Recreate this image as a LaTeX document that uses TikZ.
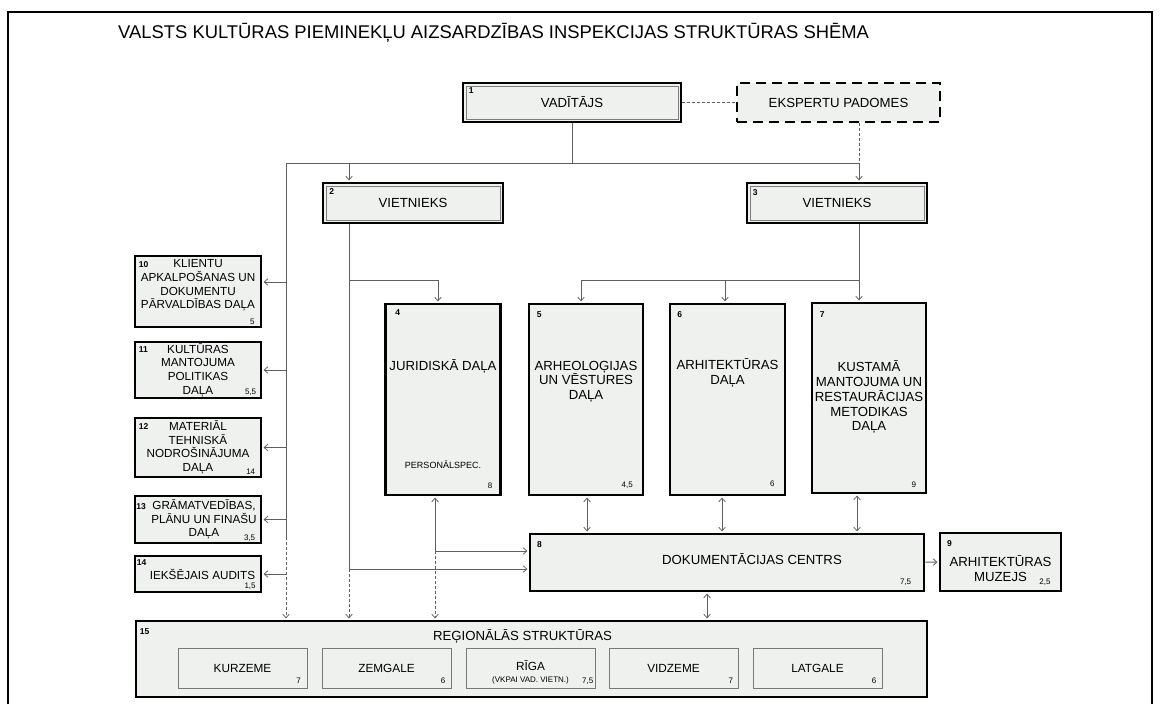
\documentclass[tikz,border=0pt]{standalone}
\usepackage{fontspec}
\setmainfont{Liberation Sans}
\usetikzlibrary{arrows.meta, calc}
\definecolor{boxFill}{RGB}{239,241,239}
\definecolor{lineGray}{RGB}{95,95,95}
\definecolor{innerGray}{RGB}{125,125,125}
\definecolor{subGray}{RGB}{120,120,120}

\begin{document}
\begin{tikzpicture}[x=1pt, y=-1pt,
    unit/.style={rectangle, draw=black, line width=2.7pt, fill=boxFill, inner sep=0pt, align=center, font=\fontsize{13.2}{14.5}\selectfont},
    chief/.style={unit, path picture={\draw[innerGray, line width=0.9pt] ([shift={(3pt,-3pt)}]path picture bounding box.north west) rectangle ([shift={(-3pt,3pt)}]path picture bounding box.south east);}},
    council/.style={unit, dash pattern=on 10pt off 6pt},
    side/.style={unit, minimum width=126pt, font={\fontsize{11.7}{13.7}\selectfont\lineskiplimit=-20pt}},
    dept/.style={unit, minimum width=115pt, minimum height=191pt},
    region/.style={rectangle, draw=subGray, line width=0.9pt, fill=boxFill, inner sep=0pt, minimum width=129pt, minimum height=40pt, align=center, font=\fontsize{11.8}{13}\selectfont},
    txt/.style={inner sep=0pt, align=center, font={\fontsize{13.2}{14.8}\selectfont\lineskiplimit=-20pt}},
    stxt/.style={txt, font={\fontsize{11.7}{13.7}\selectfont\lineskiplimit=-20pt}},
    idx/.style={anchor=north west, inner sep=0pt, font=\bfseries\fontsize{8.5}{8.5}\selectfont},
    val/.style={anchor=base east, inner sep=0pt, font=\fontsize{8}{8}\selectfont},
    conn/.style={draw=lineGray, line width=0.8pt},
    dotconn/.style={conn, dash pattern=on 3pt off 2pt},
    arr/.style={conn, -{Straight Barb[length=3.5pt, width=6.5pt]}, shorten >=1.3pt},
    darr/.style={conn, {Straight Barb[length=3.5pt, width=6.5pt]}-{Straight Barb[length=3.5pt, width=6.5pt]}, shorten >=1.3pt, shorten <=1.3pt}
  ]
  \useasboundingbox (0,0) rectangle (1161,704);

  % frame and title
  \draw[line width=1.8pt] (8,704) -- (8,12) -- (1152,12) -- (1152,704);
  \node[anchor=base west, inner sep=0pt, font=\fontsize{18.4}{20}\selectfont] (title) at (118,38.3) {VALSTS KULTŪRAS PIEMINEKĻU AIZSARDZĪBAS INSPEKCIJAS STRUKTŪRAS SHĒMA};

  % head and deputies
  \node[chief, minimum width=218pt, minimum height=39pt, label={[idx, xshift=7pt, yshift=-6pt]north west:1}] (b1) at (572,102.5) {VADĪTĀJS};
  \node[council, minimum width=203pt, minimum height=39pt] (ek) at (838.5,102.5) {EKSPERTU PADOMES};
  \node[chief, minimum width=180pt, minimum height=40pt, label={[idx, xshift=7.5pt, yshift=-7pt]north west:2}] (b2) at (413,203) {VIETNIEKS};
  \node[chief, minimum width=180pt, minimum height=40pt, label={[idx, xshift=7pt, yshift=-7.5pt]north west:3}] (b3) at (837,203) {VIETNIEKS};

  % side units
  \node[side, minimum height=71pt, label={[idx, xshift=5pt, yshift=-6.5pt]north west:10}, label={[val, xshift=-7.7pt, yshift=4.3pt]south east:5}] (b10) at (198,291.5) {};
  \node[side, minimum height=56pt, label={[idx, xshift=5pt, yshift=-6pt]north west:11}, label={[val, xshift=-6pt, yshift=4.7pt]south east:5,5}] (b11) at (198,370) {KULTŪRAS\\MANTOJUMA\\POLITIKAS\\DAĻA};
  \node[side, minimum height=59pt, label={[idx, xshift=5pt, yshift=-7pt]north west:12}, label={[val, xshift=-7pt, yshift=3.7pt]south east:14}] (b12) at (198,447.5) {MATERIĀL\\TEHNISKĀ\\NODROŠINĀJUMA\\DAĻA};
  \node[side, minimum height=47pt, label={[idx, xshift=2.5pt, yshift=-8.5pt]north west:13}, label={[val, xshift=-7pt, yshift=3.7pt]south east:3,5}] (b13) at (198,519.5) {};
  \node[side, minimum height=36pt, label={[idx, xshift=3pt, yshift=-5pt]north west:14}, label={[val, xshift=-6.5pt, yshift=5.3pt]south east:1,5}] (b14) at (198,574) {};

  % departments
  \node[dept, label={[idx, xshift=11pt, yshift=-7pt]north west:4}, label={[val, xshift=-9.3pt, yshift=7.8pt]south east:8}] (b4) at (443,399.5) {};
  \node[dept, minimum width=114pt, label={[idx, xshift=9pt, yshift=-8.5pt]north west:5}, label={[val, xshift=-11.3pt, yshift=8.8pt]south east:4,5}] (b5) at (586,399.5) {};
  \node[dept, label={[idx, xshift=8.5pt, yshift=-8.5pt]north west:6}, label={[val, xshift=-11.7pt, yshift=9.5pt]south east:6}] (b6) at (727.5,399.5) {};
  \node[dept, minimum width=114pt, minimum height=190pt, label={[idx, xshift=9pt, yshift=-10pt]north west:7}, label={[val, xshift=-11pt, yshift=7pt]south east:9}] (b7) at (869,398) {};

  % documentation centre, museum, regions
  \node[unit, minimum width=394pt, minimum height=57pt, label={[idx, xshift=8.3pt, yshift=-8.3pt]north west:8}, label={[val, xshift=-14pt, yshift=8pt]south east:7,5}] (b8) at (727,562.5) {};
  \node[unit, minimum width=121pt, minimum height=58pt, label={[idx, xshift=8.3pt, yshift=-8.7pt]north west:9}, label={[val, xshift=-11.7pt, yshift=8pt]south east:2,5}] (b9) at (1000.5,562) {};
  \node[unit, minimum width=791pt, minimum height=76pt, label={[idx, xshift=5pt, yshift=-8.3pt]north west:15}] (b15) at (531.5,659) {};
  \node[region, label={[val, xshift=-6.5pt, yshift=4.7pt]south east:7}] (kur) at (242.5,668) {KURZEME};
  \node[region, label={[val, xshift=-6pt, yshift=4.7pt]south east:6}] (zem) at (386.5,668) {ZEMGALE};
  \node[region, label={[val, xshift=-2pt, yshift=4.7pt]south east:7,5}] (rig) at (530.5,668) {};
  \node[region, label={[val, xshift=-5.3pt, yshift=4.7pt]south east:7}] (vid) at (673.5,668) {VIDZEME};
  \node[region, label={[val, xshift=-6pt, yshift=4.7pt]south east:6}] (lat) at (817.5,668) {LATGALE};

  % texts placed off centre
  \node[stxt] (t10) at ([yshift=6pt]b10.center) {KLIENTU\\APKALPOŠANAS UN\\DOKUMENTU\\PĀRVALDĪBAS DAĻA};
  \node[stxt] (t13) at ([xshift=6pt]b13.center) {GRĀMATVEDĪBAS,\\PLĀNU UN FINAŠU\\DAĻA};
  \node[stxt] (t14) at ([xshift=4.5pt]b14.center) {IEKŠĒJAIS AUDITS};
  \node[txt, anchor=north] (t4) at ([yshift=-57pt]b4.north) {JURIDISKĀ DAĻA};
  \node[inner sep=0pt, anchor=base, font=\fontsize{9}{9}\selectfont] (p4) at ([yshift=28pt]b4.south) {PERSONĀLSPEC.};
  \node[txt, anchor=north] (t5) at ([yshift=-58pt]b5.north) {ARHEOLOĢIJAS\\UN VĒSTURES\\DAĻA};
  \node[txt, anchor=north] (t6) at ([yshift=-56pt]b6.north) {ARHITEKTŪRAS\\DAĻA};
  \node[txt, anchor=north] (t7) at ([yshift=-59pt]b7.north) {KUSTAMĀ\\MANTOJUMA UN\\RESTAURĀCIJAS\\METODIKAS\\DAĻA};
  \node[txt] (t8) at ([xshift=25pt, yshift=3.5pt]b8.center) {DOKUMENTĀCIJAS CENTRS};
  \node[txt] (t9) at ([yshift=-7pt]b9.center) {ARHITEKTŪRAS\\MUZEJS};
  \node[txt, anchor=north] (t15) at ([xshift=-9pt, yshift=-9.5pt]b15.north) {REĢIONĀLĀS STRUKTŪRAS};
  \node[inner sep=0pt, align=center, font=\fontsize{11.8}{13}\selectfont] (trig) at ([yshift=-4pt]rig.center) {RĪGA\\[-1pt]{\fontsize{8}{8}\selectfont (VKPAI VAD. VIETN.)}};

  % head to deputies
  \coordinate (hl) at (286,163);
  \coordinate (hr) at (859,163);
  \coordinate (c2) at (349,163);
  \draw[conn] (b1.south) -- (b1.south |- hl);
  \draw[conn] (hl) -- (hr);
  \draw[arr] (c2) -- (c2 |- b2.north);
  \draw[arr] (hr) -- (hr |- b3.north);
  \draw[dotconn] (b1.east) -- (ek.west);
  \draw[dotconn] (hr |- ek.south) -- (hr);

  % left trunk to side units
  \coordinate (tb) at (286,537);
  \draw[conn] (hl) -- (tb);
  \draw[arr, dotconn] (tb) -- (tb |- b15.north);
  \coordinate (a10) at ([yshift=9.5pt]b10.east);
  \draw[arr] (hl |- a10) -- (a10);
  \foreach \n in {11,12,13,14}
    \draw[arr] (hl |- b\n.east) -- (b\n.east);

  % deputy 2
  \coordinate (d2) at (349,280);
  \coordinate (e2) at (349,569);
  \draw[conn] (c2 |- b2.south) -- (e2);
  \draw[arr] (d2) -| ([xshift=-5pt]b4.north);
  \draw[arr] (e2) -- (e2 -| b8.west);
  \draw[arr, dotconn] (e2) -- (e2 |- b15.north);

  % deputy 3
  \coordinate (d3) at (859,280);
  \draw[conn] (hr |- b3.south) -- (d3);
  \draw[arr] (d3) -| ([xshift=-5pt]b5.north);
  \draw[arr] (d3) -| ([xshift=-2.5pt]b6.north);
  \draw[arr] (d3) -- (d3 |- b7.north);

  % departments and documentation centre
  \coordinate (j4) at (435,551);
  \draw[arr] (j4) -- (j4 |- b4.south);
  \draw[arr] (j4) -- (j4 -| b8.west);
  \draw[arr, dotconn] (j4) -- (j4 |- b15.north);
  \coordinate (s5) at ([xshift=1pt]b5.south);
  \coordinate (s6) at ([xshift=-5.5pt]b6.south);
  \coordinate (s7) at ([xshift=-12pt]b7.south);
  \coordinate (s8) at ([xshift=-20pt]b8.south);
  \draw[darr] (s5) -- (s5 |- b8.north);
  \draw[darr] (s6) -- (s6 |- b8.north);
  \draw[darr] (s7) -- (s7 |- b8.north);
  \draw[darr] (s8) -- (s8 |- b15.north);
  \draw[arr] (b8) -- (b9);
\end{tikzpicture}
\end{document}
